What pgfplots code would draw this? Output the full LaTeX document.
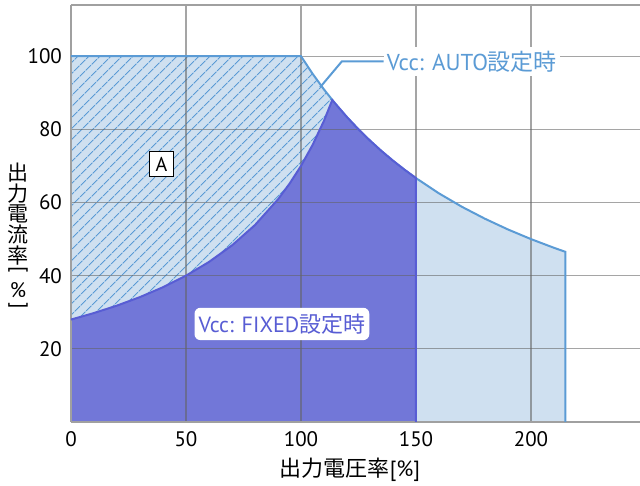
\documentclass[border=0pt]{standalone}
\usepackage{pgfplots}
\pgfplotsset{compat=1.18}
\usepackage{fontspec}
\setmainfont{PT Sans}
\newfontfamily\cjk{Noto Sans CJK JP}
\usetikzlibrary{patterns.meta,calc}

\definecolor{autoline}{RGB}{91,155,213}
\definecolor{autofill}{RGB}{207,224,240}
\definecolor{fixfill}{RGB}{114,119,216}
\definecolor{fixline}{RGB}{88,93,212}
\definecolor{gridgray}{RGB}{160,160,160}
\definecolor{griddark}{RGB}{100,100,100}

\begin{document}
\begin{tikzpicture}
\begin{axis}[
  set layers,
  scale only axis,
  width=284.5pt, height=208.5pt,
  xmin=0, xmax=247.4,
  ymin=0, ymax=114,
  axis x line*=box, axis y line*=left,
  axis line style={gridgray, line width=0.6pt},
  xtick={0,50,100,150,200},
  ytick={20,40,60,80,100},
  major tick length=0pt,
  grid=major,
  major grid style={griddark, draw opacity=0.58, line width=0.6pt},
  /pgf/number format/assume math mode=true,
  tick label style={font=\fontsize{10.5}{12}\selectfont},
  yticklabel style={xshift=-1pt},
  xticklabel style={yshift=-1pt},
]
% Vcc AUTO: light area
\addplot[on layer=axis background, fill=autofill, draw=none] coordinates {
  (0,0) (0,100) (100,100) (105,95.24) (110,90.91) (115,86.96) (120,83.33)
  (125,80) (130,76.92) (135,74.07) (140,71.43) (145,68.97) (150,66.67)
  (160,62.5) (170,58.82) (180,55.56) (190,52.63) (200,50) (210,47.62)
  (215,46.51) (215,0)
} -- cycle;
% hatch (area A)
\addplot[on layer=axis background,
  pattern={Lines[angle=45,distance=4pt,line width=0.6pt]},
  pattern color=autoline, draw=none] coordinates {
  (0,0) (0,100) (100,100) (105,95.24) (110,90.91) (115,86.96) (120,83.33)
  (125,80) (130,76.92) (135,74.07) (140,71.43) (145,68.97) (150,66.67) (150,0)
} -- cycle;
% Vcc FIXED
\addplot[on layer=axis background, fill=fixfill, draw=none] coordinates {
  (0,0) (0,28) (10,29.79) (20,31.82) (30,34.15) (40,36.84) (50,40)
  (60,43.75) (70,48.28) (80,53.85) (90,60.87) (95,65.12) (100,70)
  (105,75.68) (110,82.35) (113.6,88) (120,83.33) (125,80) (130,76.92)
  (135,74.07) (140,71.43) (145,68.97) (150,66.67) (150,0)
} -- cycle;
% outlines
\addplot[autoline, line width=1pt] coordinates {
  (0,100) (100,100) (105,95.24) (110,90.91) (115,86.96) (120,83.33)
  (125,80) (130,76.92) (135,74.07) (140,71.43) (145,68.97) (150,66.67)
  (160,62.5) (170,58.82) (180,55.56) (190,52.63) (200,50) (210,47.62)
  (215,46.51) (215,0)
};
\addplot[fixline, line width=1pt] coordinates {
  (0,28) (10,29.79) (20,31.82) (30,34.15) (40,36.84) (50,40)
  (60,43.75) (70,48.28) (80,53.85) (90,60.87) (95,65.12) (100,70)
  (105,75.68) (110,82.35) (113.6,88) (120,83.33) (125,80) (130,76.92)
  (135,74.07) (140,71.43) (145,68.97) (150,66.67) (150,0)
};
\coordinate (O) at (rel axis cs:0,0);
\coordinate (TR) at (rel axis cs:1,1);
\coordinate (Apos) at (axis cs:39.3,70.5);
\coordinate (Fpos) at (axis cs:91.7,26.8);
\coordinate (L1) at (axis cs:108.3,91.5);
\coordinate (L2) at (axis cs:117.8,98.6);
\coordinate (L3) at (axis cs:135.9,98.6);
\end{axis}
\draw[autoline, line width=1pt] (L1) -- (L2) -- (L3);
\node[anchor=west, fill=white, inner xsep=1.5pt, inner ysep=2pt, text=autoline,
  font=\fontsize{11.5}{13}\selectfont] at (L3) {Vcc: AUTO{\cjk 設定時}};
\node[draw=black, fill=white, line width=0.5pt, inner sep=0pt, minimum size=12.3pt,
  font=\fontsize{10}{12}\selectfont] at (Apos) {A};
\node[fill=white, rounded corners=3pt, inner xsep=2pt, inner ysep=3pt, text=fixline,
  font=\fontsize{11}{12}\selectfont] at (Fpos) {Vcc: FIXED{\cjk 設定時}};
\node[font=\fontsize{11}{12}\selectfont] at ($(O)+(139.5pt,-24pt)$)
  {{\cjk 出力電圧率}[\%]};
\node[align=center, font=\fontsize{10.5}{10.4}\selectfont\cjk, inner sep=0pt]
  at ($(O)+(-26.5pt,104pt)$) {出\\力\\電\\流\\率};
\node[inner sep=0pt, font=\fontsize{10.5}{12}\selectfont]
  at ($(O)+(-26.5pt,75.5pt)$) {\rotatebox[origin=c]{-90}{[}};
\node[inner sep=0pt, font=\fontsize{10.5}{12}\selectfont]
  at ($(O)+(-26.5pt,66pt)$) {\%};
\node[inner sep=0pt, font=\fontsize{10.5}{12}\selectfont]
  at ($(O)+(-26.5pt,57.5pt)$) {\rotatebox[origin=c]{-90}{]}};
\pgfresetboundingbox
\path[use as bounding box] ($(O)+(-35.5pt,-32pt)$) rectangle ($(TR)+(0,2.5pt)$);
\end{tikzpicture}
\end{document}
